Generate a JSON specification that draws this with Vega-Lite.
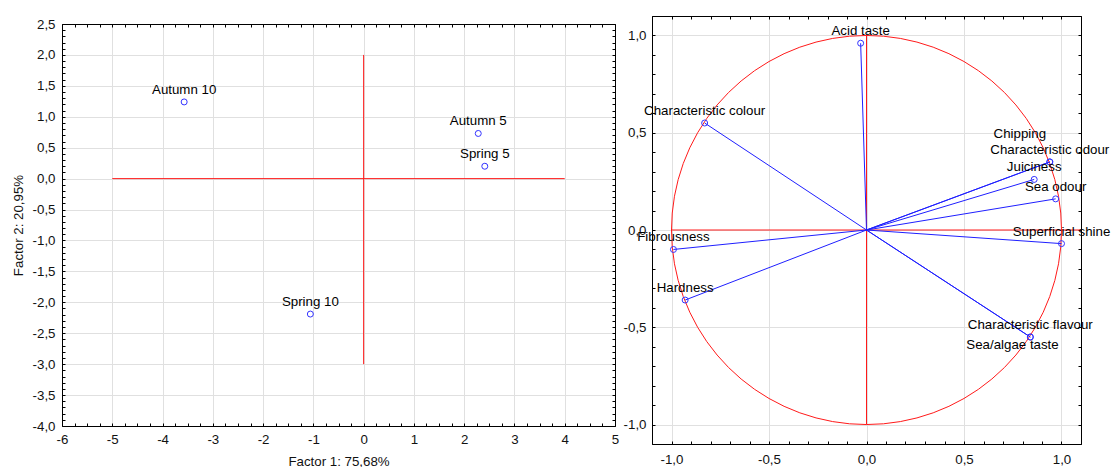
{
  "$schema": "https://vega.github.io/schema/vega-lite/v6.json",
  "padding": {"left": 11, "top": 15, "right": 0, "bottom": 0},
  "background": "white",
  "spacing": 4,
  "config": {
    "view": {"stroke": null},
    "font": "Liberation Sans",
    "axis": {
      "labelFont": "Liberation Sans",
      "labelFontSize": 13.3,
      "labelColor": "#111111",
      "titleFont": "Liberation Sans",
      "titleFontSize": 13.3,
      "titleFontWeight": "normal",
      "titleColor": "#111111",
      "domainColor": "#000000",
      "domainWidth": 1,
      "tickColor": "#000000",
      "tickWidth": 1,
      "gridColor": "#e0e0e0",
      "gridWidth": 1,
      "labelFlush": false,
      "labelOverlap": false
    }
  },
  "datasets": {
    "scores": [
      {"name": "Autumn 10", "f1": -3.57, "f2": 1.24},
      {"name": "Spring 10", "f1": -1.06, "f2": -2.19},
      {"name": "Autumn 5", "f1": 2.28, "f2": 0.73},
      {"name": "Spring 5", "f1": 2.41, "f2": 0.2}
    ],
    "refL": [
      {"x1": -5, "x2": 4, "y1": 0, "y2": 0},
      {"x1": 0, "x2": 0, "y1": 2, "y2": -3}
    ],
    "refR": [
      {"x1": -1, "x2": 1.1, "y1": 0, "y2": 0},
      {"x1": 0, "x2": 0, "y1": -1, "y2": 1}
    ],
    "loadings": [
      {"name": "Acid taste", "x": -0.03, "y": 0.96},
      {"name": "Characteristic colour", "x": -0.83, "y": 0.55},
      {"name": "Chipping", "x": 0.94, "y": 0.35},
      {"name": "Characteristic odour", "x": 0.94, "y": 0.35},
      {"name": "Juiciness", "x": 0.86, "y": 0.26},
      {"name": "Sea odour", "x": 0.97, "y": 0.16},
      {"name": "Superficial shine", "x": 1.0, "y": -0.07},
      {"name": "Characteristic flavour", "x": 0.84, "y": -0.55},
      {"name": "Sea/algae taste", "x": 0.84, "y": -0.55},
      {"name": "Fibrousness", "x": -0.99, "y": -0.1},
      {"name": "Hardness", "x": -0.93, "y": -0.36}
    ],
    "circle": [
      {"i": 0, "cx": 1, "cy": 0},
      {"i": 1, "cx": 0.9962, "cy": 0.0872},
      {"i": 2, "cx": 0.9848, "cy": 0.1736},
      {"i": 3, "cx": 0.9659, "cy": 0.2588},
      {"i": 4, "cx": 0.9397, "cy": 0.342},
      {"i": 5, "cx": 0.9063, "cy": 0.4226},
      {"i": 6, "cx": 0.866, "cy": 0.5},
      {"i": 7, "cx": 0.8192, "cy": 0.5736},
      {"i": 8, "cx": 0.766, "cy": 0.6428},
      {"i": 9, "cx": 0.7071, "cy": 0.7071},
      {"i": 10, "cx": 0.6428, "cy": 0.766},
      {"i": 11, "cx": 0.5736, "cy": 0.8192},
      {"i": 12, "cx": 0.5, "cy": 0.866},
      {"i": 13, "cx": 0.4226, "cy": 0.9063},
      {"i": 14, "cx": 0.342, "cy": 0.9397},
      {"i": 15, "cx": 0.2588, "cy": 0.9659},
      {"i": 16, "cx": 0.1736, "cy": 0.9848},
      {"i": 17, "cx": 0.0872, "cy": 0.9962},
      {"i": 18, "cx": 0, "cy": 1},
      {"i": 19, "cx": -0.0872, "cy": 0.9962},
      {"i": 20, "cx": -0.1736, "cy": 0.9848},
      {"i": 21, "cx": -0.2588, "cy": 0.9659},
      {"i": 22, "cx": -0.342, "cy": 0.9397},
      {"i": 23, "cx": -0.4226, "cy": 0.9063},
      {"i": 24, "cx": -0.5, "cy": 0.866},
      {"i": 25, "cx": -0.5736, "cy": 0.8192},
      {"i": 26, "cx": -0.6428, "cy": 0.766},
      {"i": 27, "cx": -0.7071, "cy": 0.7071},
      {"i": 28, "cx": -0.766, "cy": 0.6428},
      {"i": 29, "cx": -0.8192, "cy": 0.5736},
      {"i": 30, "cx": -0.866, "cy": 0.5},
      {"i": 31, "cx": -0.9063, "cy": 0.4226},
      {"i": 32, "cx": -0.9397, "cy": 0.342},
      {"i": 33, "cx": -0.9659, "cy": 0.2588},
      {"i": 34, "cx": -0.9848, "cy": 0.1736},
      {"i": 35, "cx": -0.9962, "cy": 0.0872},
      {"i": 36, "cx": -1, "cy": 0},
      {"i": 37, "cx": -0.9962, "cy": -0.0872},
      {"i": 38, "cx": -0.9848, "cy": -0.1736},
      {"i": 39, "cx": -0.9659, "cy": -0.2588},
      {"i": 40, "cx": -0.9397, "cy": -0.342},
      {"i": 41, "cx": -0.9063, "cy": -0.4226},
      {"i": 42, "cx": -0.866, "cy": -0.5},
      {"i": 43, "cx": -0.8192, "cy": -0.5736},
      {"i": 44, "cx": -0.766, "cy": -0.6428},
      {"i": 45, "cx": -0.7071, "cy": -0.7071},
      {"i": 46, "cx": -0.6428, "cy": -0.766},
      {"i": 47, "cx": -0.5736, "cy": -0.8192},
      {"i": 48, "cx": -0.5, "cy": -0.866},
      {"i": 49, "cx": -0.4226, "cy": -0.9063},
      {"i": 50, "cx": -0.342, "cy": -0.9397},
      {"i": 51, "cx": -0.2588, "cy": -0.9659},
      {"i": 52, "cx": -0.1736, "cy": -0.9848},
      {"i": 53, "cx": -0.0872, "cy": -0.9962},
      {"i": 54, "cx": 0, "cy": -1},
      {"i": 55, "cx": 0.0872, "cy": -0.9962},
      {"i": 56, "cx": 0.1736, "cy": -0.9848},
      {"i": 57, "cx": 0.2588, "cy": -0.9659},
      {"i": 58, "cx": 0.342, "cy": -0.9397},
      {"i": 59, "cx": 0.4226, "cy": -0.9063},
      {"i": 60, "cx": 0.5, "cy": -0.866},
      {"i": 61, "cx": 0.5736, "cy": -0.8192},
      {"i": 62, "cx": 0.6428, "cy": -0.766},
      {"i": 63, "cx": 0.7071, "cy": -0.7071},
      {"i": 64, "cx": 0.766, "cy": -0.6428},
      {"i": 65, "cx": 0.8192, "cy": -0.5736},
      {"i": 66, "cx": 0.866, "cy": -0.5},
      {"i": 67, "cx": 0.9063, "cy": -0.4226},
      {"i": 68, "cx": 0.9397, "cy": -0.342},
      {"i": 69, "cx": 0.9659, "cy": -0.2588},
      {"i": 70, "cx": 0.9848, "cy": -0.1736},
      {"i": 71, "cx": 0.9962, "cy": -0.0872},
      {"i": 72, "cx": 1, "cy": 0}
    ]
  },
  "hconcat": [
    {
      "spacing": 0,
      "vconcat": [
        {
          "width": 553,
          "height": 1,
          "data": {"values": []},
          "mark": {"type": "point", "opacity": 0},
          "encoding": {}
        },
        {
          "width": 553,
          "height": 402,
          "resolve": {"axis": {"x": "independent", "y": "independent"}},
          "layer": [
            {
              "data": {"name": "scores"},
              "mark": {"type": "text", "dy": -12, "fontSize": 13.3, "font": "Liberation Sans", "color": "#000000", "baseline": "middle"},
              "encoding": {
                "x": {
                  "field": "f1", "type": "quantitative",
                  "scale": {"domain": [-6, 5], "nice": false, "zero": false},
                  "axis": {
                    "orient": "bottom",
                    "title": "Factor 1: 75,68%",
                    "titlePadding": 9,
                    "values": [-6,-5,-4,-3,-2,-1,0,1,2,3,4,5],
                    "labelExpr": "(datum.value < -1e-9 ? '-' : '') + format(abs(datum.value), 'd')",
                    "ticks": false,
                    "labelPadding": 6
                  }
                },
                "y": {
                  "field": "f2", "type": "quantitative",
                  "scale": {"domain": [-4, 2.5], "nice": false, "zero": false},
                  "axis": {
                    "orient": "left",
                    "title": "Factor 2: 20,95%",
                    "titlePadding": 7,
                    "values": [-4,-3.5,-3,-2.5,-2,-1.5,-1,-0.5,0,0.5,1,1.5,2,2.5],
                    "labelExpr": "(datum.value < -1e-9 ? '-' : '') + replace(format(abs(datum.value), '.1f'), '.', ',')",
                    "ticks": false,
                    "labelPadding": 7
                  }
                },
                "text": {"field": "name"}
              }
            },
            {
              "data": {"name": "refL"},
              "mark": {"type": "rule", "color": "#ff1a1a", "strokeWidth": 1},
              "encoding": {
                "x": {
                  "field": "x1", "type": "quantitative",
                  "axis": {
                    "orient": "top", "title": null, "labels": false, "grid": false,
                    "values": [-6,-5.75,-5.5,-5.25,-5,-4.75,-4.5,-4.25,-4,-3.75,-3.5,-3.25,-3,-2.75,-2.5,-2.25,-2,-1.75,-1.5,-1.25,-1,-0.75,-0.5,-0.25,0,0.25,0.5,0.75,1,1.25,1.5,1.75,2,2.25,2.5,2.75,3,3.25,3.5,3.75,4,4.25,4.5,4.75,5],
                    "tickSize": -3
                  }
                },
                "x2": {"field": "x2"},
                "y": {
                  "field": "y1", "type": "quantitative",
                  "axis": {
                    "orient": "right", "title": null, "labels": false, "grid": false,
                    "values": [-4,-3.9,-3.8,-3.7,-3.6,-3.5,-3.4,-3.3,-3.2,-3.1,-3,-2.9,-2.8,-2.7,-2.6,-2.5,-2.4,-2.3,-2.2,-2.1,-2,-1.9,-1.8,-1.7,-1.6,-1.5,-1.4,-1.3,-1.2,-1.1,-1,-0.9,-0.8,-0.7,-0.6,-0.5,-0.4,-0.3,-0.2,-0.1,0,0.1,0.2,0.3,0.4,0.5,0.6,0.7,0.8,0.9,1,1.1,1.2,1.3,1.4,1.5,1.6,1.7,1.8,1.9,2,2.1,2.2,2.3,2.4,2.5],
                    "tickSize": -3
                  }
                },
                "y2": {"field": "y2"}
              }
            },
            {
              "data": {"name": "scores"},
              "mark": {"type": "point", "shape": "circle", "filled": false, "size": 36, "color": "#3333ff", "strokeWidth": 1, "opacity": 1},
              "encoding": {
                "x": {
                  "field": "f1", "type": "quantitative",
                  "axis": {
                    "orient": "bottom", "title": null, "labels": false, "grid": false, "domain": false,
                    "values": [-6,-5.75,-5.5,-5.25,-5,-4.75,-4.5,-4.25,-4,-3.75,-3.5,-3.25,-3,-2.75,-2.5,-2.25,-2,-1.75,-1.5,-1.25,-1,-0.75,-0.5,-0.25,0,0.25,0.5,0.75,1,1.25,1.5,1.75,2,2.25,2.5,2.75,3,3.25,3.5,3.75,4,4.25,4.5,4.75,5],
                    "tickSize": -3
                  }
                },
                "y": {
                  "field": "f2", "type": "quantitative",
                  "axis": {
                    "orient": "left", "title": null, "labels": false, "grid": false, "domain": false,
                    "values": [-4,-3.9,-3.8,-3.7,-3.6,-3.5,-3.4,-3.3,-3.2,-3.1,-3,-2.9,-2.8,-2.7,-2.6,-2.5,-2.4,-2.3,-2.2,-2.1,-2,-1.9,-1.8,-1.7,-1.6,-1.5,-1.4,-1.3,-1.2,-1.1,-1,-0.9,-0.8,-0.7,-0.6,-0.5,-0.4,-0.3,-0.2,-0.1,0,0.1,0.2,0.3,0.4,0.5,0.6,0.7,0.8,0.9,1,1.1,1.2,1.3,1.4,1.5,1.6,1.7,1.8,1.9,2,2.1,2.2,2.3,2.4,2.5],
                    "tickSize": -3
                  }
                }
              }
            }
          ]
        }
      ]
    },
    {
      "width": 429,
      "height": 428,
      "resolve": {"axis": {"x": "independent", "y": "independent"}},
      "layer": [
        {
          "data": {"name": "circle"},
          "mark": {"type": "line", "color": "#ff1a1a", "strokeWidth": 1},
          "encoding": {
            "x": {
              "field": "cx", "type": "quantitative",
              "scale": {"domain": [-1.1, 1.1], "nice": false, "zero": false},
              "axis": {
                "orient": "bottom", "title": null,
                "values": [-1,-0.5,0,0.5,1],
                "labelExpr": "(datum.value < -1e-9 ? '-' : '') + replace(format(abs(datum.value), '.1f'), '.', ',')",
                "ticks": false,
                "labelPadding": 8
              }
            },
            "y": {
              "field": "cy", "type": "quantitative",
              "scale": {"domain": [-1.1, 1.1], "nice": false, "zero": false},
              "axis": {
                "orient": "left", "title": null,
                "values": [-1,-0.5,0,0.5,1],
                "labelExpr": "(datum.value < -1e-9 ? '-' : '') + replace(format(abs(datum.value), '.1f'), '.', ',')",
                "ticks": false,
                "labelPadding": 6
              }
            },
            "order": {"field": "i", "type": "quantitative"}
          }
        },
        {
          "data": {"name": "refR"},
          "mark": {"type": "rule", "color": "#ff1a1a", "strokeWidth": 1},
          "encoding": {
            "x": {
              "field": "x1", "type": "quantitative",
              "axis": {
                "orient": "top", "title": null, "labels": false, "grid": false,
                "values": [-1.1,-1,-0.9,-0.8,-0.7,-0.6,-0.5,-0.4,-0.3,-0.2,-0.1,0,0.1,0.2,0.3,0.4,0.5,0.6,0.7,0.8,0.9,1,1.1],
                "tickSize": -3
              }
            },
            "x2": {"field": "x2"},
            "y": {
              "field": "y1", "type": "quantitative",
              "axis": {
                "orient": "right", "title": null, "labels": false, "grid": false,
                "values": [-1.1,-1,-0.9,-0.8,-0.7,-0.6,-0.5,-0.4,-0.3,-0.2,-0.1,0,0.1,0.2,0.3,0.4,0.5,0.6,0.7,0.8,0.9,1,1.1],
                "tickSize": -3
              }
            },
            "y2": {"field": "y2"}
          }
        },
        {
          "data": {"name": "loadings"},
          "mark": {"type": "rule", "color": "#1f1fff", "strokeWidth": 1},
          "encoding": {
            "x": {
              "field": "x", "type": "quantitative",
              "axis": {
                "orient": "bottom", "title": null, "labels": false, "grid": false, "domain": false,
                "values": [-1.1,-1,-0.9,-0.8,-0.7,-0.6,-0.5,-0.4,-0.3,-0.2,-0.1,0,0.1,0.2,0.3,0.4,0.5,0.6,0.7,0.8,0.9,1,1.1],
                "tickSize": -3
              }
            },
            "x2": {"datum": 0},
            "y": {
              "field": "y", "type": "quantitative",
              "axis": {
                "orient": "left", "title": null, "labels": false, "grid": false, "domain": false,
                "values": [-1.1,-1,-0.9,-0.8,-0.7,-0.6,-0.5,-0.4,-0.3,-0.2,-0.1,0,0.1,0.2,0.3,0.4,0.5,0.6,0.7,0.8,0.9,1,1.1],
                "tickSize": -3
              }
            },
            "y2": {"datum": 0}
          }
        },
        {
          "data": {"name": "loadings"},
          "mark": {"type": "point", "shape": "circle", "filled": false, "size": 36, "color": "#3333ff", "strokeWidth": 1, "opacity": 1},
          "encoding": {
            "x": {"field": "x", "type": "quantitative", "axis": null},
            "y": {"field": "y", "type": "quantitative", "axis": null}
          }
        },
        {
          "data": {"name": "loadings"},
          "transform": [{"filter": "datum.name != 'Chipping' && datum.name != 'Sea/algae taste'"}],
          "mark": {"type": "text", "dy": -12, "fontSize": 13.3, "font": "Liberation Sans", "color": "#000000", "baseline": "middle"},
          "encoding": {
            "x": {"field": "x", "type": "quantitative", "axis": null},
            "y": {"field": "y", "type": "quantitative", "axis": null},
            "text": {"field": "name"}
          }
        },
        {
          "data": {"name": "loadings"},
          "transform": [{"filter": "datum.name == 'Chipping'"}],
          "mark": {"type": "text", "dx": -30, "dy": -28, "fontSize": 13.3, "font": "Liberation Sans", "color": "#000000", "baseline": "middle"},
          "encoding": {
            "x": {"field": "x", "type": "quantitative", "axis": null},
            "y": {"field": "y", "type": "quantitative", "axis": null},
            "text": {"field": "name"}
          }
        },
        {
          "data": {"name": "loadings"},
          "transform": [{"filter": "datum.name == 'Sea/algae taste'"}],
          "mark": {"type": "text", "dx": -64, "dy": 8, "align": "left", "fontSize": 13.3, "font": "Liberation Sans", "color": "#000000", "baseline": "middle"},
          "encoding": {
            "x": {"field": "x", "type": "quantitative", "axis": null},
            "y": {"field": "y", "type": "quantitative", "axis": null},
            "text": {"field": "name"}
          }
        }
      ]
    }
  ]
}
